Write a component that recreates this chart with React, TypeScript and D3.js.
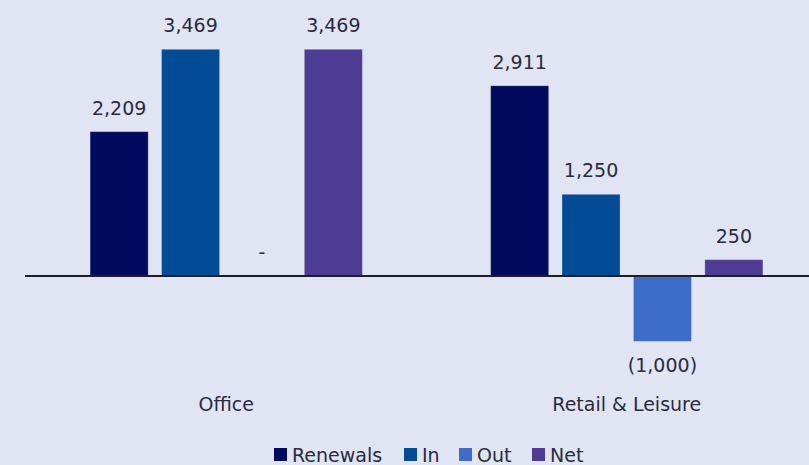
import React from "react";
import * as d3 from "d3";

const categories = ["Office", "Retail & Leisure"];
const series = ["Renewals", "In", "Out", "Net"];
const renewals = [2209, 2911];
const inValues = [3469, 1250];
const outValues = [0, -1000];
const netValues = [3469, 250];
const colors = ["#010a5e", "#044b96", "#3d6cc9", "#4e3c94"];
const legendX = [274, 404, 459, 532];

const W = 809;
const H = 465;
const FONT = "'DejaVu Sans', sans-serif";
const TEXT = "#2a2b3f";

export default function App() {
  const values = [renewals, inValues, outValues, netValues];
  const x0 = d3.scaleBand<string>().domain(categories).range([26, 827]).paddingInner(0).paddingOuter(0);
  const x1 = d3
    .scaleBand<string>()
    .domain(series)
    .range([0, x0.bandwidth()])
    .paddingInner(0.187)
    .paddingOuter(0.898);
  const y = d3.scaleLinear().domain([-1000, 3469]).range([341.35, 49.3]);
  const fmt = d3.format(",");
  const label = (v: number) => (v === 0 ? "-" : v < 0 ? `(${fmt(-v)})` : fmt(v));

  return (
    <div style={{ position: "fixed", left: 0, top: 0, width: W, height: H }}>
      <svg width={W} height={H} style={{ display: "block", background: "#e0e4f3" }}>
        <rect x={0} y={0} width={W} height={H} fill="#e0e4f3" />
        {categories.map((c, ci) => (
          <g key={c} transform={`translate(${x0(c)},0)`}>
            {series.map((s, si) => {
              const v = values[si][ci];
              const bx = x1(s)!;
              const bw = x1.bandwidth();
              const top = Math.min(y(v), y(0));
              const h = Math.abs(y(v) - y(0));
              const ly = v < 0 ? y(v) + 31 : y(v) - 17;
              return (
                <g key={s}>
                  {v !== 0 && (
                    <rect x={bx} y={top} width={bw} height={h} fill={colors[si]} stroke="#ffffff" strokeOpacity={0.25} strokeWidth={1} />
                  )}
                  <text x={bx + bw / 2} y={ly} textAnchor="middle" fontFamily={FONT} fontSize={19} fill={TEXT}>
                    {label(v)}
                  </text>
                </g>
              );
            })}
            <text x={x0.bandwidth() / 2} y={411} textAnchor="middle" fontFamily={FONT} fontSize={19} fill={TEXT}>
              {c}
            </text>
          </g>
        ))}
        <line x1={25} x2={W} y1={y(0)} y2={y(0)} stroke="#1e1e24" strokeWidth={2} />
        {series.map((s, si) => (
          <g key={s} transform={`translate(${legendX[si]},0)`}>
            <rect x={0} y={448} width={13} height={13} fill={colors[si]} />
            <text x={18} y={461.5} fontFamily={FONT} fontSize={19} fill={TEXT}>
              {s}
            </text>
          </g>
        ))}
      </svg>
    </div>
  );
}
